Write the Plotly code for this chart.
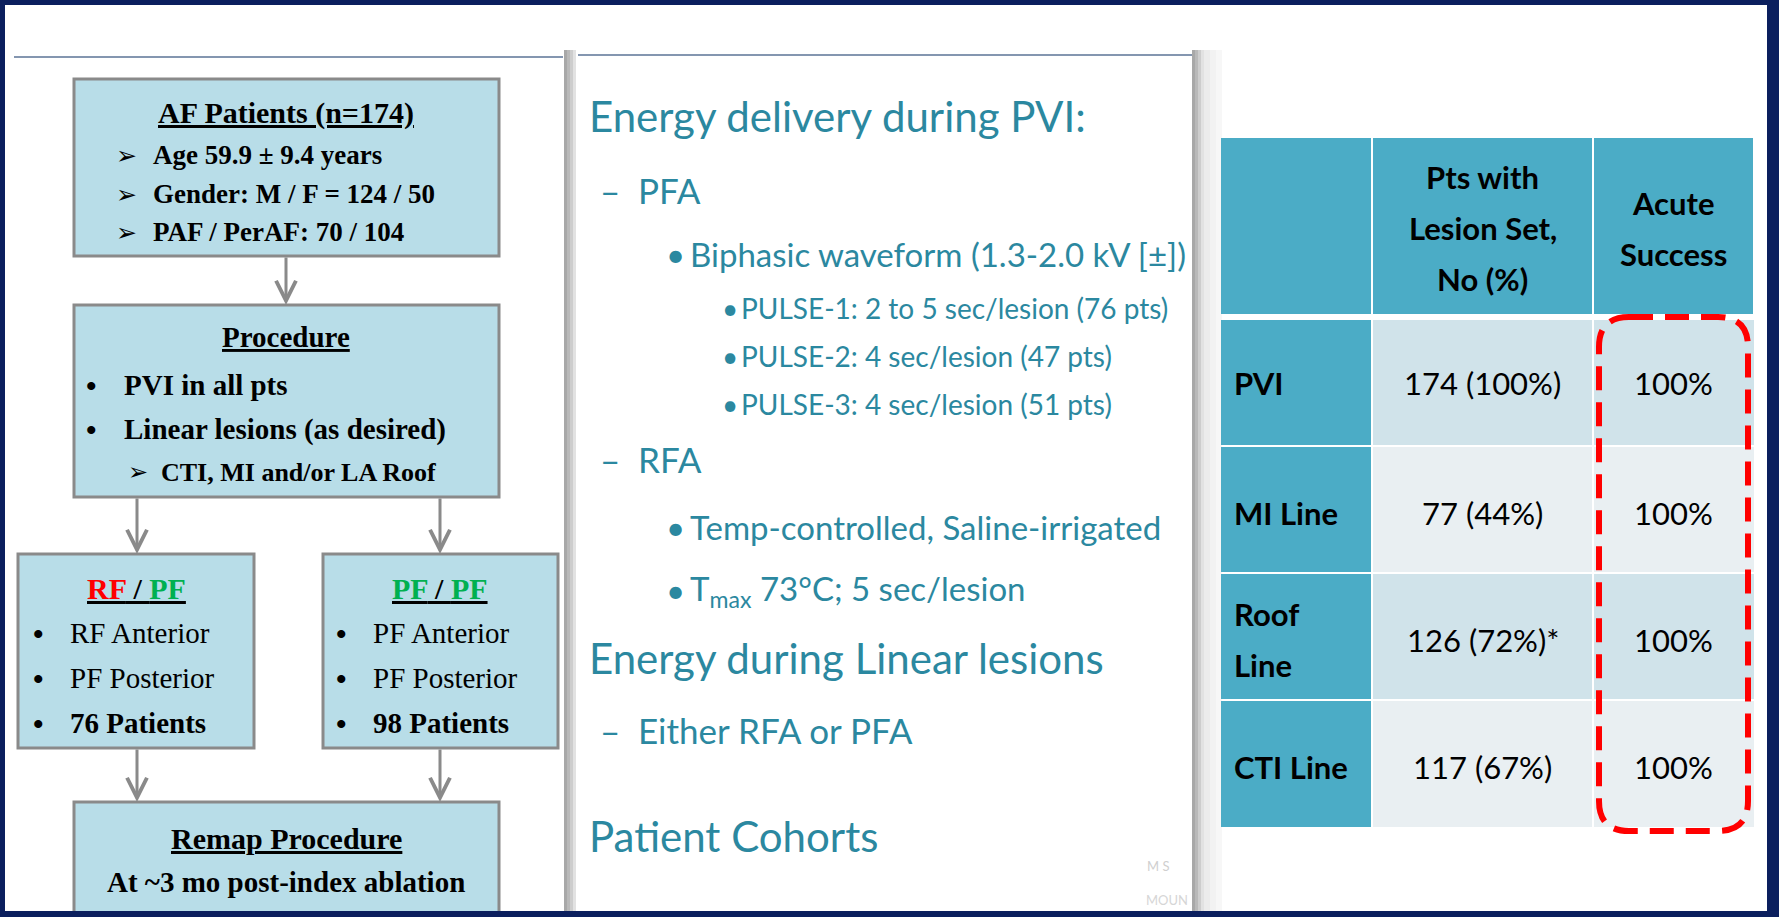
import plotly.graph_objects as go

W, H = 1779, 917

# ---- flowchart content ----
af_title = "AF Patients (n=174)"
af_items = ["Age 59.9 ± 9.4 years", "Gender: M / F = 124 / 50", "PAF / PerAF: 70 / 104"]
proc_title = "Procedure"
proc_items = [("•", "PVI in all pts"), ("•", "Linear lesions (as desired)"), ("➢", "CTI, MI and/or LA Roof")]
rf_items = ["RF Anterior", "PF Posterior", "<b>76 Patients</b>"]
pf_items = ["PF Anterior", "PF Posterior", "<b>98 Patients</b>"]
remap_title = "Remap Procedure"
remap_line = "At ~3 mo post-index ablation"

# ---- middle text ----
energy_lines = [
    (0, "Energy delivery during PVI:"),
    (1, "PFA"),
    (2, "Biphasic waveform (1.3-2.0 kV [±])"),
    (3, "PULSE-1: 2 to 5 sec/lesion (76 pts)"),
    (3, "PULSE-2: 4 sec/lesion (47 pts)"),
    (3, "PULSE-3: 4 sec/lesion (51 pts)"),
    (1, "RFA"),
    (2, "Temp-controlled, Saline-irrigated"),
    (2, "T<sub>max</sub> 73°C; 5 sec/lesion"),
    (0, "Energy during Linear lesions"),
    (1, "Either RFA or PFA"),
    (0, "Patient Cohorts"),
]
energy_y = [116, 190, 254, 308, 356, 404, 459, 527, 590, 658, 730, 836]

# ---- table ----
header_col2 = ["Pts with", "Lesion Set,", "No (%)"]
header_col3 = ["Acute", "Success"]
lesion_sets = ["PVI", "MI Line", "Roof<br>Line", "CTI Line"]
pts_n = [174, 77, 126, 117]
pts_pct = [100, 44, 72, 67]
pts_note = ["", "", "*", ""]
acute_success = [100, 100, 100, 100]

NAVY = "#0b1f5e"
TEAL = "#2b88a0"
BOX = "#b8dde8"
BOXLINE = "#8a8a8a"
SERIF = "Liberation Serif"
SANS = "Lato"

shapes = []
ann = []


def rect(x0, y0, x1, y1, fill, line=None, lw=0):
    shapes.append(dict(type="rect", x0=x0, y0=y0, x1=x1, y1=y1, xref="x", yref="y",
                       fillcolor=fill, line=dict(color=line or fill, width=lw), layer="below"))


def text(x, y, s, size, color="black", family=SERIF, xa="left"):
    ann.append(dict(x=x, y=y, text=s, showarrow=False, xanchor=xa, yanchor="middle",
                    font=dict(size=size, color=color, family=family)))


def arrow(x, y0, y1):
    ann.append(dict(x=x, y=y1, ax=x, ay=y0, axref="x", ayref="y", text="", showarrow=True,
                    arrowhead=5, arrowsize=1.3, arrowwidth=3, arrowcolor=BOXLINE, standoff=0))


# panel shadows / background
for i, c in enumerate(["#a8a8a8", "#b9b9b9", "#cdcdcd", "#e2e2e2"]):
    rect(564 + i * 3, 50, 567 + i * 3, H, c)
    rect(1192 + i * 3, 50, 1195 + i * 3, H, c)
for i, c in enumerate(["#ececec", "#f2f2f2", "#f7f7f7"]):
    rect(1204 + i * 6, 50, 1210 + i * 6, H, c)
shapes.append(dict(type="line", x0=14, y0=57, x1=563, y1=57, line=dict(color="#8496b0", width=2)))
shapes.append(dict(type="line", x0=578, y0=55, x1=1192, y1=55, line=dict(color="#8496b0", width=2)))

# flowchart boxes
rect(74, 79, 499, 256, BOX, BOXLINE, 3)
rect(74, 305, 499, 497, BOX, BOXLINE, 3)
rect(18, 554, 254, 748, BOX, BOXLINE, 3)
rect(323, 554, 558, 748, BOX, BOXLINE, 3)
rect(74, 802, 499, 940, BOX, BOXLINE, 3)
arrow(286, 256, 305)
arrow(137, 497, 554)
arrow(440, 497, 554)
arrow(137, 748, 802)
arrow(440, 748, 802)

text(286, 113, "<b><u>%s</u></b>" % af_title, 30, xa="center")
for yy, item in zip([155, 194, 232], af_items):
    text(114, yy, "➢", 25, family="DejaVu Sans")
    text(151, yy, "<b>%s</b>" % item, 27)

text(286, 337, "<b><u>%s</u></b>" % proc_title, 29, xa="center")
for yy, (mark, item) in zip([385, 429, 472], proc_items):
    if mark == "•":
        text(84, yy, "<b>•</b>", 30)
        text(122, yy, "<b>%s</b>" % item, 29)
    else:
        text(126, yy, mark, 24, family="DejaVu Sans")
        text(159, yy, "<b>%s</b>" % item, 26)

text(136, 588, "<b><u><span style='color:#ff0000'>RF</span></u><u> / </u>"
               "<u><span style='color:#00b050'>PF</span></u></b>", 30, xa="center")
text(440, 588, "<b><u><span style='color:#00b050'>PF</span></u><u> / </u>"
               "<u><span style='color:#00b050'>PF</span></u></b>", 30, xa="center")
for yy, a, b in zip([633, 678, 723], rf_items, pf_items):
    text(31, yy, "<b>•</b>", 30)
    text(68, yy, a, 29)
    text(334, yy, "<b>•</b>", 30)
    text(371, yy, b, 29)

text(286, 838, "<b><u>%s</u></b>" % remap_title, 30, xa="center")
text(286, 882, "<b>%s</b>" % remap_line, 29, xa="center")

# middle panel text
indent = {0: (None, 587, 42), 1: ("–", 636, 35), 2: ("•", 688, 33), 3: ("•", 739, 28)}
mark_x = {1: 598, 2: 664, 3: 720}
for (lvl, s), yy in zip(energy_lines, energy_y):
    mk, x, sz = indent[lvl]
    if mk:
        text(mark_x[lvl], yy, mk, sz, TEAL, SANS)
    text(x, yy, s, sz, TEAL, SANS)

# faint watermark
text(1158, 866, "M S", 13, "#cfcfcf", SANS, "center")
text(1190, 900, "MOUN", 13, "#d6d6d6", SANS, "right")

# table
TB = "#4bacc6"
col_x = [1221, 1372, 1593, 1754]
row_y = [138, 314, 446, 573, 700, 828]
band = ["#d0e3ea", "#e9eff2", "#d0e3ea", "#e9eff2"]
for c in range(3):
    rect(col_x[c] + (1 if c else 0), row_y[0], col_x[c + 1] - 1, row_y[1], TB)
for r in range(4):
    y0 = row_y[r + 1] + (6 if r == 0 else 1)
    y1 = row_y[r + 2] - 1
    rect(col_x[0], y0, col_x[1] - 1, y1, TB)
    rect(col_x[1] + 1, y0, col_x[2] - 1, y1, band[r])
    rect(col_x[2] + 1, y0, col_x[3], y1, band[r])

c2 = (col_x[1] + col_x[2]) / 2
c3 = (col_x[2] + col_x[3]) / 2
for i, s in enumerate(header_col2):
    text(c2, 177 + i * 51, "<b>%s</b>" % s, 31, family=SANS, xa="center")
for i, s in enumerate(header_col3):
    text(c3, 203 + i * 51, "<b>%s</b>" % s, 31, family=SANS, xa="center")

for r in range(4):
    yc = (row_y[r + 1] + row_y[r + 2]) / 2 + 3
    parts = lesion_sets[r].split("<br>")
    for k, p in enumerate(parts):
        text(1232, yc + (k - (len(parts) - 1) / 2) * 51, "<b>%s</b>" % p, 31, family=SANS)
    text(c2, yc, "%d (%d%%)%s" % (pts_n[r], pts_pct[r], pts_note[r]), 31, family=SANS, xa="center")
    text(c3, yc, "%d%%" % acute_success[r], 31, family=SANS, xa="center")

# red dashed highlight around acute success column
x0, x1, y0, y1, rr = 1599, 1748, 317, 831, 30
path = ("M %d,%d L %d,%d Q %d,%d %d,%d L %d,%d Q %d,%d %d,%d L %d,%d Q %d,%d %d,%d L %d,%d Q %d,%d %d,%d Z"
        % (x0 + rr, y0, x1 - rr, y0, x1, y0, x1, y0 + rr, x1, y1 - rr, x1, y1, x1 - rr, y1,
           x0 + rr, y1, x0, y1, x0, y1 - rr, x0, y0 + rr, x0, y0, x0 + rr, y0))
shapes.append(dict(type="path", path=path, xref="x", yref="y",
                   line=dict(color="#ff0000", width=6, dash="24px,12px")))

# navy frame
for fr in [(0, 0, W, 5), (0, 0, 5, H), (1767, 0, W, H), (0, 911, W, H)]:
    shapes.append(dict(type="rect", x0=fr[0], y0=fr[1], x1=fr[2], y1=fr[3],
                       fillcolor=NAVY, line=dict(width=0), layer="above"))

fig = go.Figure()
fig.update_layout(
    width=W, height=H, margin=dict(l=0, r=0, t=0, b=0),
    paper_bgcolor="white", plot_bgcolor="white",
    xaxis=dict(range=[0, W], visible=False, fixedrange=True),
    yaxis=dict(range=[H, 0], visible=False, fixedrange=True),
    shapes=shapes, annotations=ann, showlegend=False,
)
fig.write_html("out.html", config={"displayModeBar": False},
               post_script="document.body.style.margin='0';document.body.style.overflow='hidden';")
